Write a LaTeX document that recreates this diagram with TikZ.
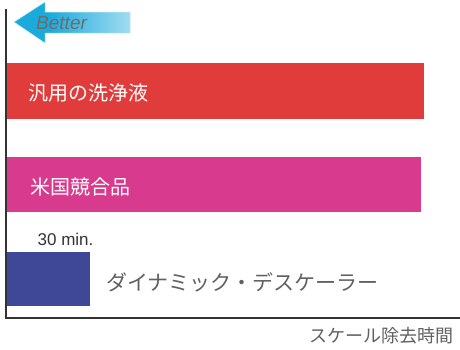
\documentclass[tikz,border=0pt]{standalone}
\usepackage{fontspec}
\setmainfont{Liberation Sans}
\newfontfamily\jpfont{Noto Sans CJK JP}
\usetikzlibrary{shadings}
\definecolor{axisgray}{HTML}{333333}
\definecolor{barred}{HTML}{E03C3C}
\definecolor{barmag}{HTML}{D83A8E}
\definecolor{barblue}{HTML}{3F4896}
\definecolor{arrcyan}{HTML}{1BAADC}
\definecolor{txtgray}{HTML}{606060}
\pgfdeclarehorizontalshading{bettershade}{100bp}{color(0bp)=(arrcyan); color(40bp)=(arrcyan); color(100bp)=(white)}
\tikzset{
  bar/.style={draw=none, inner sep=0pt, anchor=north west},
  barlabel/.style={font=\jpfont\fontsize{20}{20}\selectfont, text=white, anchor=west, inner sep=0pt},
  graylabel/.style={font=\jpfont\fontsize{21}{21}\selectfont, text=txtgray, inner sep=0pt},
  axisline/.style={draw=axisgray, line width=2pt}
}
\begin{document}
\begin{tikzpicture}[x=1pt,y=-1pt]
\useasboundingbox (0,0) rectangle (460,349);
% bars
\fill[barred] (7,63) rectangle (424,119);
\node[bar] (red) at (7,63) {};
\fill[barmag] (7,157) rectangle (421,212);
\node[bar] (mag) at (7,157) {};
\fill[barblue] (7,252) rectangle (90,306);
\node[bar] (blue) at (7,252) {};
% labels
\node[barlabel] (l1) at (28,93) {汎用の洗浄液};
\node[barlabel] (l2) at (30,187) {米国競合品};
\node[font=\fontsize{17}{17}\selectfont, text=axisgray, anchor=base west, inner sep=0pt] (l3) at (37.5,245) {30 min.};
\node[graylabel, anchor=west] (l4) at (106,282) {ダイナミック・デスケーラー};
\node[graylabel, font=\jpfont\fontsize{18}{18}\selectfont, anchor=east] (xlab) at (454,336) {スケール除去時間};
% axes
\coordinate (top) at (6,9);
\coordinate (origin) at (6,318);
\coordinate (xend) at (460,318);
\draw[axisline] (top) -- (origin) -- (xend);
% better arrow
\shade[shading=bettershade, draw=arrcyan!25, line width=0.5pt]
  (14,22) -- (45,2) -- (45,12) -- (130,12) -- (130,33) -- (45,33) -- (45,43) -- cycle;
\node[font=\itshape\fontsize{19}{19}\selectfont, text=gray!85!black, anchor=west, inner sep=0pt] (better) at (36,23) {Better};
\end{tikzpicture}
\end{document}
